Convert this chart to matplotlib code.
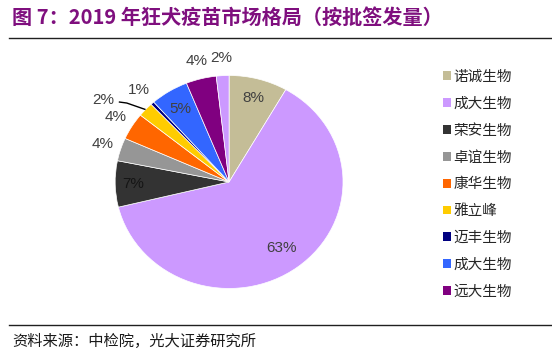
import numpy as np
import matplotlib
matplotlib.use("Agg")
import matplotlib.pyplot as plt
from matplotlib.patches import Patch

plt.rcParams['font.family'] = ['Noto Sans CJK SC', 'DejaVu Sans']

# ---- data ----
companies = ["诺诚生物", "成大生物", "荣安生物", "卓谊生物", "康华生物",
             "雅立峰", "迈丰生物", "成大生物", "远大生物", "其他"]
shares = [8.3, 62.9, 7.0, 3.5, 4.1, 2.2, 0.5, 5.4, 4.3, 1.8]
pct_labels = ["8%", "63%", "7%", "4%", "4%", "2%", "1%", "5%", "4%", "2%"]
colors = ["#C4BD97", "#CC99FF", "#333333", "#969696", "#FF6600",
          "#FFCC00", "#000080", "#3366FF", "#800080", "#CC99FF"]
n_legend = 9

title = "图 7：2019 年狂犬疫苗市场格局（按批签发量）"
source = "资料来源：中检院，光大证券研究所"

# ---- figure ----
fig = plt.figure(figsize=(5.52, 3.54), dpi=100)
ax = fig.add_axes([0.157, 0.110, 0.516, 0.752])

wedges, _ = ax.pie(shares, colors=colors, startangle=90, counterclock=False,
                   wedgeprops=dict(edgecolor="white", linewidth=0.5))
ax.set_aspect("auto")
ax.set_xlim(-1.25, 1.25)
ax.set_ylim(-1.25, 1.25)
ax.axis("off")

inside = {0: 0.82, 1: 0.77, 2: 0.84, 7: 0.81}
label_color = "#404040"
for i, w in enumerate(wedges):
    mid = np.deg2rad((w.theta1 + w.theta2) / 2)
    if i in inside:
        r, ang = inside[i], mid
    elif i == 5:
        r, ang = 1.35, mid + np.deg2rad(8)
    else:
        r, ang = 1.17, mid
    ax.text(r * np.cos(ang), r * np.sin(ang), pct_labels[i], ha="center",
            va="center", fontsize=11,
            color="#151515" if i == 2 else label_color,
            family=["Liberation Sans", "DejaVu Sans"])
    if i == 5:
        ex, ey = np.cos(mid), np.sin(mid)
        lx, ly = r * np.cos(ang) + 0.14, r * np.sin(ang) - 0.02
        ax.plot([lx, lx + 0.07, ex], [ly, ly - 0.01, ey], color="black",
                lw=1.0, solid_capstyle="butt")

# legend
handles = [Patch(facecolor=colors[i], edgecolor="none") for i in range(n_legend)]
fig.legend(handles, companies[:n_legend], loc="upper left",
           bbox_to_anchor=(443 / 552, 1 - 70 / 354), frameon=False,
           fontsize=10.5, handlelength=0.55, handleheight=0.55,
           handletextpad=0.15, labelspacing=0.88, borderpad=0,
           borderaxespad=0, labelcolor="#262626")

# title, rules, source
fig.text(12 / 552, 1 - 17 / 354, title, ha="left", va="center",
         fontsize=14.5, fontweight="bold", color="#7F0F7E")
fig.add_artist(plt.Line2D([9 / 552, 1.0], [1 - 38 / 354] * 2,
                          transform=fig.transFigure, color="#202020", lw=1.0))
fig.add_artist(plt.Line2D([9 / 552, 1.0], [1 - 325 / 354] * 2,
                          transform=fig.transFigure, color="#202020", lw=1.0))
fig.text(12 / 552, 1 - 341 / 354, source, ha="left", va="center",
         fontsize=11, color="#1a1a1a")

fig.savefig("out.png", dpi=100)
